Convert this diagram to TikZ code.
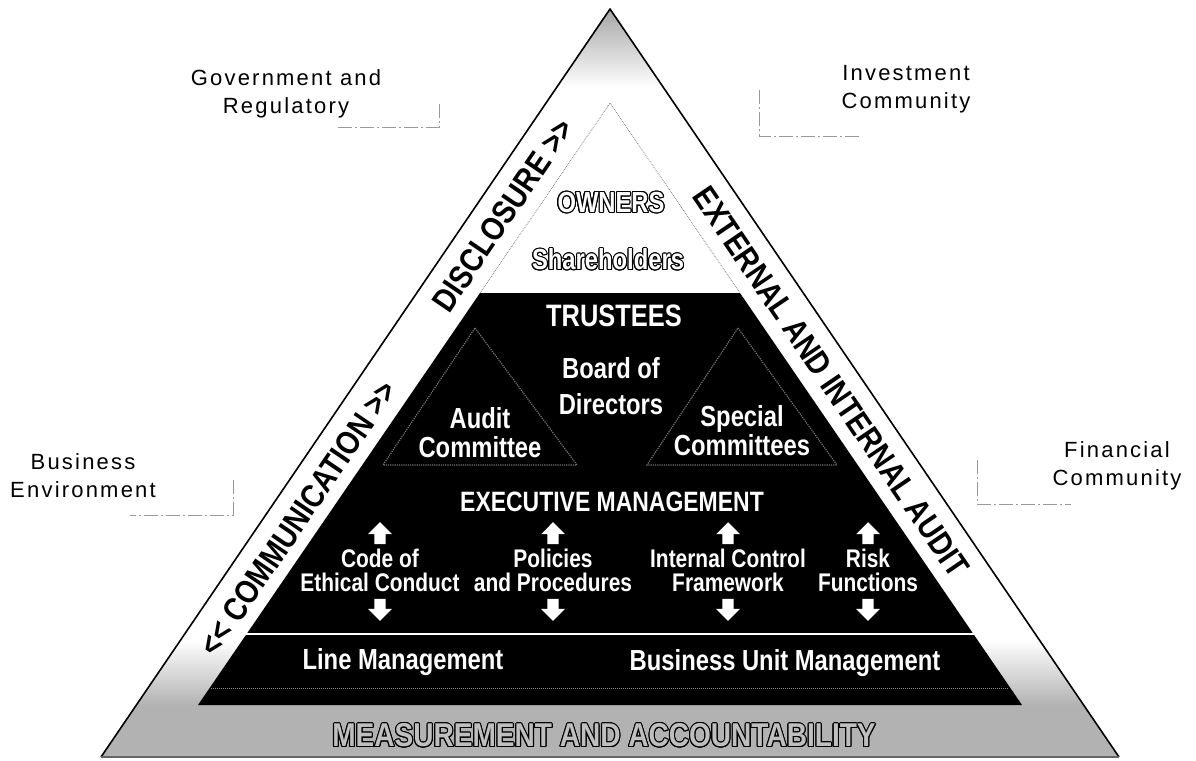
\documentclass[tikz,border=0pt]{standalone}
\usepackage{fontspec}
\usepackage{contour}
\setmainfont{Liberation Sans}
\newfontfamily\labelfont[LetterSpace=10]{Liberation Sans}
\newfontfamily\bandfont[FakeStretch=0.85]{Liberation Sans}
\newfontfamily\condfont[FakeStretch=0.82]{Liberation Sans}
\usetikzlibrary{arrows.meta,positioning,shapes.arrows}
\contourlength{1.1pt}

\begin{document}
\begin{tikzpicture}[
  x=1pt, y=-1pt,
  outside/.style={font=\labelfont\fontsize{22}{28}\selectfont, align=center, inner sep=0pt},
  bracket/.style={draw=black!40, line width=0.9pt, dash pattern=on 14pt off 3pt on 2pt off 3pt},
  level/.style={text=white, font=\condfont\bfseries\fontsize{29}{29}\selectfont, align=center, inner sep=0pt},
  item/.style={text=white, font=\condfont\bfseries\fontsize{25.5}{24}\selectfont, align=center, inner sep=0pt},
  band/.style={font=\bandfont\bfseries\fontsize{33}{33}\selectfont, inner sep=0pt},
  hollow/.style={text=white, font=\condfont\bfseries\fontsize{29}{29}\selectfont, inner sep=0pt},
  upblock/.style={single arrow, fill=white, inner sep=5pt, minimum width=24pt,
    minimum height=22pt, single arrow head extend=6pt, shape border rotate=90},
  downblock/.style={upblock, shape border rotate=270},
  cttee/.style={draw=black!55, line width=1.2pt, densely dotted}
]
  \useasboundingbox (0,0) rectangle (1196,760);

  % pyramid body
  \shade[top color=black!35, bottom color=white] (610,9) -- (664,88) -- (556,88) -- cycle;
  \shade[top color=white, bottom color=black!30] (181,640) -- (1039,640) -- (1083,705) -- (137,705) -- cycle;
  \fill[black!30] (137,705) -- (1083,705) -- (1119,757) -- (101,757) -- cycle;
  \draw[black!50, densely dotted, line width=0.8pt] (480,293) -- (610,103) -- (740,293);
  \fill[black] (480,293) -- (740,293) -- (1022,705) -- (198,705) -- cycle;
  \draw[line width=1.6pt, line join=round] (101,757) -- (610,9) -- (1119,757);
  \draw[black!60, line width=1.2pt] (101,757) -- (1119,757);
  \draw[white, line width=2.5pt] (246,634) -- (974,634);
  \draw[black!45, densely dotted, line width=1pt] (211,688) -- (1009,688);
  \draw[cttee] (475,328) -- (577,465) -- (383,465) -- cycle;
  \draw[cttee] (738,328) -- (837,465) -- (647,465) -- cycle;

  % levels
  \node[hollow] (owners) at (611,203) {\contour{black}{OWNERS}};
  \node[hollow] (share) at (608,260) {\contour{black}{Shareholders}};
  \node[level, font=\condfont\bfseries\fontsize{31}{29}\selectfont] (trust) at (614,316) {TRUSTEES};
  \node[level, font=\condfont\bfseries\fontsize{29}{36}\selectfont] (board) at (611,386) {Board of\\Directors};
  \node[level] (audit) at (480,433) {Audit\\Committee};
  \node[level] (special) at (742,431) {Special\\Committees};
  \node[level, font=\condfont\bfseries\fontsize{28}{29}\selectfont] (exec) at (612,502) {EXECUTIVE MANAGEMENT};

  \node[item] (code) at (380,570) {Code of\\Ethical Conduct};
  \node[item] (policy) at (553,570) {Policies\\and Procedures};
  \node[item] (icf) at (728,570) {Internal Control\\Framework};
  \node[item] (risk) at (868,570) {Risk\\Functions};
  \foreach \n in {code,policy,icf,risk} {
    \node[upblock, above=4pt of \n] (\n up) {};
    \node[downblock, below=7pt of \n] (\n down) {};
  }

  \node[level] (line) at (403,662) {Line Management};
  \node[level] (bum) at (785,663) {Business Unit Management};

  % bands
  \node[band, rotate=55.8] (discl) at (503,215) {DISCLOSURE >{}>};
  \node[band, rotate=55.8] (comm) at (298,518) {<{}< COMMUNICATION >{}>};
  \node[band, rotate=-55.8] (extaud) at (831,382) {EXTERNAL AND INTERNAL AUDIT};
  \node[band, text=black!25] (meas) at (604,736) {\contour{black}{MEASUREMENT AND ACCOUNTABILITY}};

  % outside groups
  \node[outside] (gov) at (286,94) {Government and\\Regulatory};
  \node[outside] (invest) at (906,89) {Investment\\Community};
  \node[outside] (busenv) at (83,476) {Business\\Environment};
  \node[outside] (fin) at (1117,466) {Financial\\Community};
  \draw[bracket] (439,104) |- (337,127);
  \draw[bracket] (759,90) |- (860,136);
  \draw[bracket] (233,480) |- (130,515);
  \draw[bracket] (977,460) |- (1071,504);
\end{tikzpicture}
\end{document}
